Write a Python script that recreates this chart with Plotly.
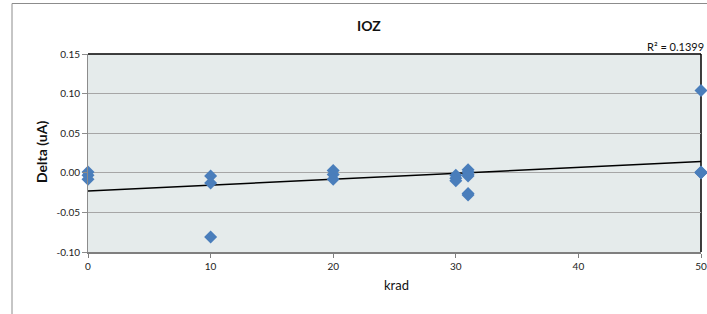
import numpy as np
import plotly.graph_objects as go

# Data
krad = [0, 0, 0, 10, 10, 10, 20, 20, 20, 30, 30, 30, 31, 31, 31, 31, 31, 31, 50, 50, 50, 50]
delta = [0.001, -0.003, -0.008, -0.004, -0.013, -0.081, 0.003, -0.002, -0.008,
         -0.003, -0.007, -0.010, 0.004, 0.001, -0.002, -0.004, -0.026, -0.028,
         0.104, 0.000, 0.000, 0.001]
y_ticks = [-0.10, -0.05, 0.00, 0.05, 0.10, 0.15]
x_ticks = [0, 10, 20, 30, 40, 50]
title_text = "IOZ"
r2_text = "R² = 0.1399"

slope, intercept = np.polyfit(krad, delta, 1)
trend_x = [min(x_ticks), max(x_ticks)]
trend_y = [intercept + slope * v for v in trend_x]

W, H = 707, 314
L, R, T, B = 88, 6, 54, 62
pw, ph = W - L - R, H - T - B

def px(x):
    return (x - L) / pw

def py(y):
    return 1 - (y - T) / ph

font = "Lato, 'Open Sans', sans-serif"

fig = go.Figure()
fig.add_trace(go.Scatter(x=trend_x, y=trend_y, mode="lines",
                         line=dict(color="black", width=1.5),
                         hoverinfo="skip", showlegend=False))
fig.add_trace(go.Scatter(x=krad, y=delta, mode="markers",
                         marker=dict(symbol="diamond", size=10, color="#4a7ebb"),
                         cliponaxis=False, showlegend=False))

fig.update_layout(
    width=W, height=H, autosize=False,
    margin=dict(l=L, r=R, t=T, b=B, autoexpand=False),
    paper_bgcolor="white",
    plot_bgcolor="#e5ebeb",
    font=dict(family=font, size=10, color="#222"),
    xaxis=dict(range=[0, 50], tickvals=x_ticks, ticktext=[str(v) for v in x_ticks],
               automargin=False,
               showgrid=False, zeroline=False, showline=True, linecolor="#7f7f7f",
               linewidth=2, ticks="outside", ticklen=4, tickcolor="#7f7f7f",
               tickfont=dict(size=10, family=font)),
    yaxis=dict(range=[-0.10, 0.15], tickvals=y_ticks,
               ticktext=[f"{v:.2f}" for v in y_ticks], automargin=False,
               showgrid=True, gridcolor="#a6a6a6", gridwidth=1,
               zeroline=False, showline=True, linecolor="#8c8c8c", linewidth=1,
               ticks="outside", ticklen=5, tickcolor="#8c8c8c",
               tickfont=dict(size=10, family=font)),
    shapes=[
        # chart area border (extends beyond the visible window)
        dict(type="rect", xref="paper", yref="paper",
             x0=px(12), x1=px(760), y0=py(340), y1=py(3.5),
             line=dict(color="#8c8c8c", width=1), fillcolor="rgba(0,0,0,0)", layer="below"),
        # plot area top and right border
        dict(type="line", xref="paper", yref="paper", x0=0, x1=1, y0=1, y1=1,
             line=dict(color="black", width=1.5), layer="below"),
        dict(type="line", xref="paper", yref="paper", x0=1, x1=1, y0=0, y1=1,
             line=dict(color="black", width=1.5), layer="below"),
    ],
    annotations=[
        dict(text=f"<b>{title_text}</b>", xref="paper", yref="paper",
             x=px(369), y=py(26), xanchor="center", yanchor="middle", showarrow=False,
             font=dict(size=14, family=font, color="#111")),
        dict(text=r2_text, xref="paper", yref="paper", x=px(706), y=py(55),
             xanchor="right", yanchor="bottom", showarrow=False,
             font=dict(size=11, family=font, color="#111")),
        dict(text="<b>Delta (uA)</b>", xref="paper", yref="paper", x=px(41), y=py(152),
             xanchor="center", yanchor="middle",
             textangle=-90, showarrow=False, font=dict(size=14, family=font, color="#111")),
        dict(text="krad", xref="paper", yref="paper", x=px(396), y=py(285),
             xanchor="center", yanchor="middle",
             showarrow=False, font=dict(size=13, family=font, color="#111")),
    ],
)

fig.write_html("out.html",
               config={"displayModeBar": False, "responsive": False},
               post_script="document.documentElement.style.overflow='hidden';"
                           "document.body.style.margin='0';document.body.style.overflow='hidden';")
